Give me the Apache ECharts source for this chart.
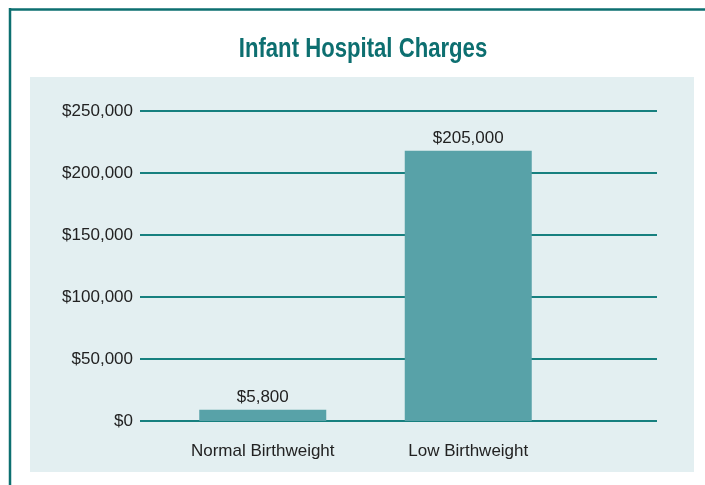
<!DOCTYPE html>
<html style="height: 100%">

<head>
  <meta charset="utf-8">
</head>

<body style="height: 100%; margin: 0; background: #ffffff">
  <div id="container" style="width: 705px; height: 485px"></div>
  <script type="text/javascript" src="https://cdn.jsdelivr.net/npm/echarts@6/dist/echarts.min.js"></script>
  <script type="text/javascript">
    // data
    var categories = ['Normal Birthweight', 'Low Birthweight'];
    var barHeights = [9000, 218000];          // drawn bar heights
    var valueLabels = ['$5,800', '$205,000']; // printed labels above bars
    var yTicks = [0, 50000, 100000, 150000, 200000, 250000];

    var teal = '#0d6f70';
    var font = '"Liberation Sans", Arial, sans-serif';

    var dom = document.getElementById("container");
    var myChart = echarts.init(dom);

    function money(v) {
      return '$' + String(v).replace(/\B(?=(\d{3})+(?!\d))/g, ',');
    }

    var option = {
      animation: false,
      backgroundColor: '#ffffff',
      textStyle: { fontFamily: font },
      graphic: [
        { type: 'rect', shape: { x: 30, y: 77, width: 664, height: 395 }, style: { fill: '#e3eff1' }, z: -10 },
        { type: 'line', shape: { x1: 9, y1: 9.5, x2: 705, y2: 9.5 }, style: { stroke: teal, lineWidth: 2.5 } },
        { type: 'line', shape: { x1: 10, y1: 8, x2: 10, y2: 485 }, style: { stroke: teal, lineWidth: 2.5 } },
        {
          // condensed bold title
          type: 'text', x: 363, y: 49.5, scaleX: 0.82,
          style: {
            text: 'Infant Hospital Charges', align: 'center', verticalAlign: 'middle',
            fill: teal, font: 'bold 27px ' + font
          }
        }
      ],
      grid: [
        { left: 140, right: 48, top: 111, bottom: 64 },
        { left: 160, width: 411, top: 111, bottom: 64 }
      ],
      xAxis: [
        { gridIndex: 0, type: 'category', data: categories, show: false },
        {
          gridIndex: 1, type: 'category', data: categories,
          axisLine: { show: false }, axisTick: { show: false },
          axisLabel: { interval: 0, color: '#222', fontSize: 17, margin: 22, fontFamily: font }
        }
      ],
      yAxis: [
        {
          gridIndex: 0, type: 'value', min: yTicks[0], max: yTicks[yTicks.length - 1], interval: yTicks[1] - yTicks[0],
          axisLine: { show: false }, axisTick: { show: false },
          axisLabel: { color: '#222', fontSize: 17, margin: 7, fontFamily: font, formatter: money },
          splitLine: { lineStyle: { color: '#17807f', width: 2 } }
        },
        {
          gridIndex: 1, type: 'value', min: yTicks[0], max: yTicks[yTicks.length - 1], show: false,
          splitLine: { show: false }
        }
      ],
      series: [{
        type: 'bar',
        xAxisIndex: 1,
        yAxisIndex: 1,
        barWidth: 127,
        data: barHeights,
        itemStyle: { color: '#58a2a8' },
        label: {
          show: true,
          position: 'top',
          distance: 4,
          color: '#222',
          fontSize: 17,
          fontFamily: font,
          formatter: function (p) { return valueLabels[p.dataIndex]; }
        }
      }]
    };

    myChart.setOption(option);
  </script>
</body>

</html>
